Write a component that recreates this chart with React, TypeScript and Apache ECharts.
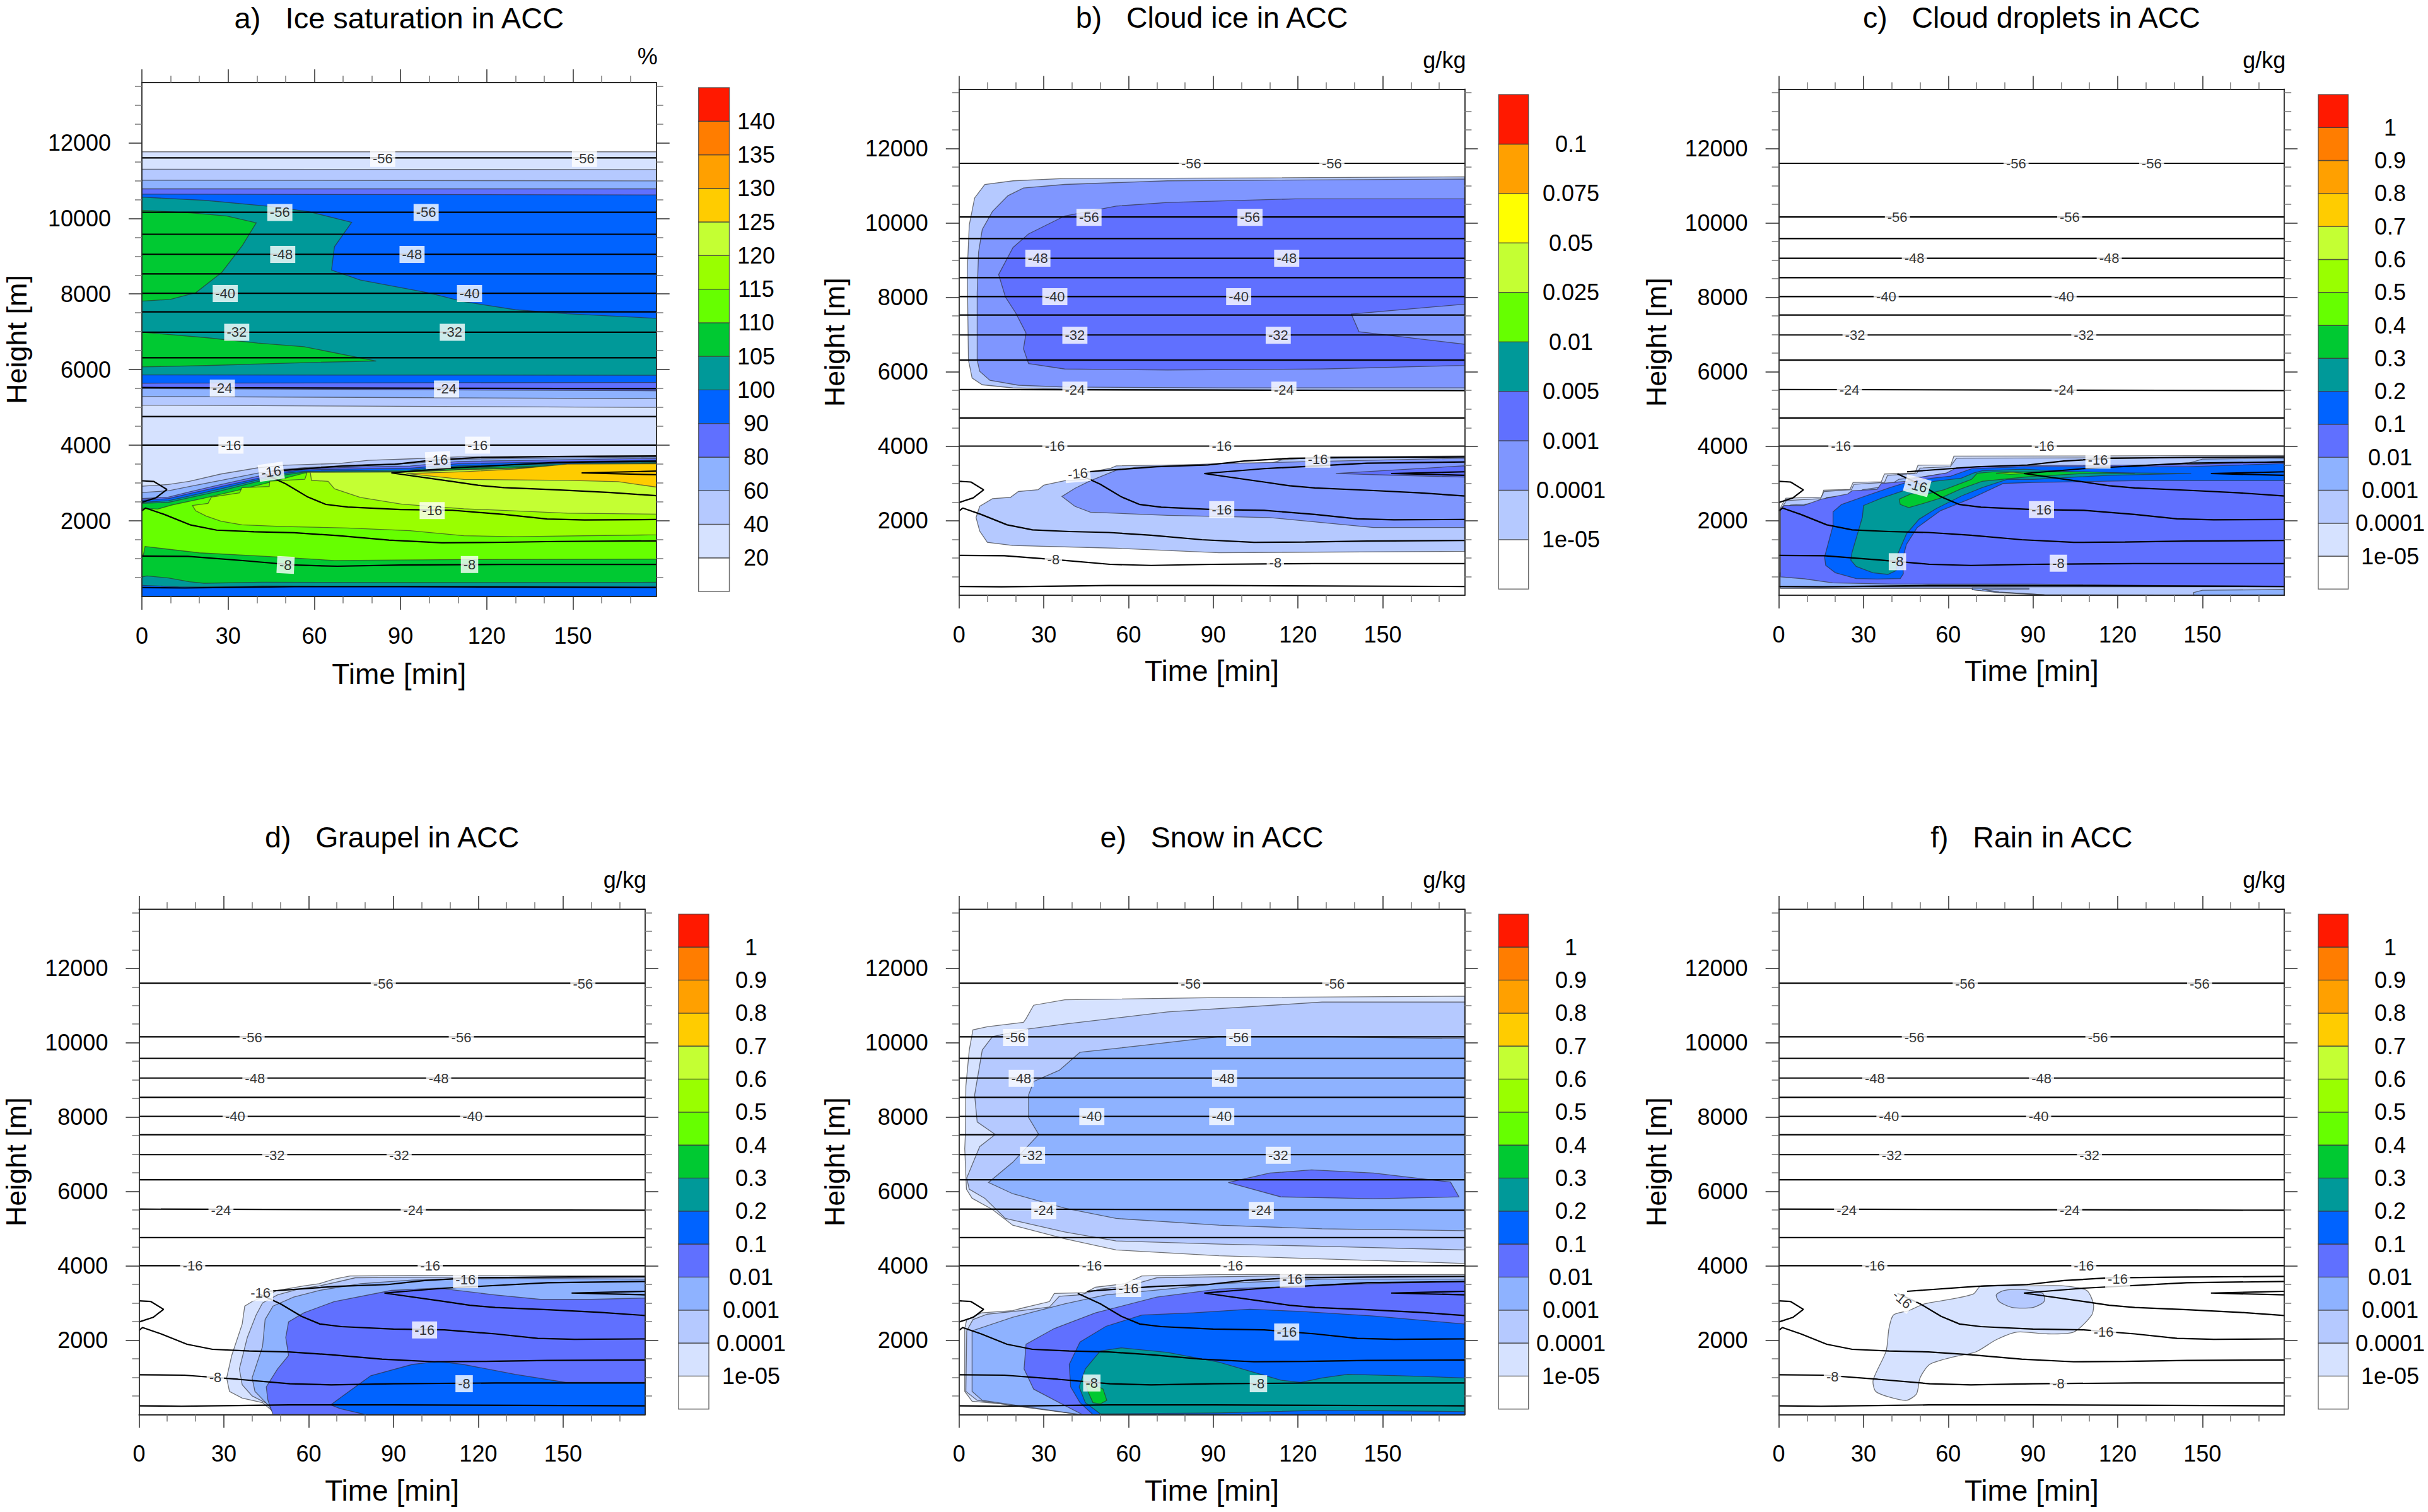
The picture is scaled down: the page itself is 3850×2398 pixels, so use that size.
import React, { useEffect, useRef } from "react";
import * as echarts from "echarts";

// ---- axis content ----
const TIME_MAX = 179;
const HEIGHT_MAX = 13590;
const timeTicks = [0, 30, 60, 90, 120, 150];
const heightTicks = [2000, 4000, 6000, 8000, 10000, 12000];

// ---- colour bars ----
const W = "#ffffff", L1 = "#d6e2ff", L2 = "#b5c9ff", L3 = "#8eb2ff", L3b = "#7f96ff", P = "#6070ff", B = "#0063ff",
  T = "#009999", G = "#00c932", G1 = "#66ff00", G2 = "#99ff00", G3 = "#c4ff33", Y0 = "#ffff00", Y = "#ffcc00",
  O1 = "#ffa000", O2 = "#ff7d00", R = "#ff1900";
const standardColors = [W, L1, L2, L3, P, B, T, G, G1, G2, G3, Y, O1, O2, R];
const iceColors = [W, L2, L3b, P, T, G1, G3, Y0, O1, R];
const satLabels = ["20", "40", "60", "80", "90", "100", "105", "110", "115", "120", "125", "130", "135", "140"];
const iceLabels = ["1e-05", "0.0001", "0.001", "0.005", "0.01", "0.025", "0.05", "0.075", "0.1"];
const mixLabels = ["1e-05", "0.0001", "0.001", "0.01", "0.1", "0.2", "0.3", "0.4", "0.5", "0.6", "0.7", "0.8", "0.9", "1"];

// ---- temperature contours (time, height) ----
const flat = (h: number, h2 = h) => [[0, h], [90, (h + h2) / 2], [TIME_MAX, h2]];
const tempContours: number[][][] = [
  flat(11600), flat(10160), flat(9580), flat(9050), flat(8530), flat(8020), flat(7525), flat(6990), flat(6315),
  flat(5525, 5495), flat(4760), flat(4005),
  [[45.4, 3315], [70, 3450], [88, 3497], [101, 3605], [117, 3676], [144.5, 3700], [179, 3715]],
  [[179, 3580], [144.5, 3545], [108, 3400], [86.8, 3268], [108, 3040], [117, 2940], [126, 2880], [144.5, 2820], [163, 2750], [179, 2665]],
  [[179, 3315], [153, 3268], [179, 3220]],
  [[42, 3260], [50, 2980], [57.5, 2640], [64, 2435], [71.6, 2365], [90, 2300], [108, 2280], [126, 2170], [141, 2050], [154, 2025], [179, 2035]],
  [[0, 2265], [1.3, 2340], [7.8, 2170], [17, 1890], [26, 1755], [39, 1710], [53, 1685], [68, 1610], [86, 1490], [104.4, 1420], [122.6, 1430], [144.5, 1455], [179, 1470]],
  [[0, 1070], [16, 1060], [35, 950], [53.4, 830], [68, 800], [90, 830], [126, 850], [179, 850]],
  [[0, 235], [15, 225], [35, 245], [53, 260], [90, 260], [179, 235]],
  [[0, 3060], [4.2, 3040], [8.7, 2830], [5, 2615], [0, 2490]],
];

// ---- contour labels: [time, height, text, rotation] ----
type Lab = [number, number, string, number?];
const labelsA: Lab[] = [[83.8, 11583, "-56"], [154, 11583, "-56"], [48, 10155, "-56"], [98.9, 10155, "-56"], [49, 9048, "-48"], [94, 9048, "-48"], [29, 8012, "-40"], [114, 8012, "-40"], [33, 6988, "-32"], [108, 6988, "-32"], [28, 5512, "-24"], [106, 5488, "-24"], [31, 4000, "-16"], [116.8, 4000, "-16"], [45, 3298, "-16", 8], [103, 3607, "-16", 3], [101, 2274, "-16"], [50, 833, "-8", -3], [114, 845, "-8"]];
const labelsB: Lab[] = [[82.2, 11590, "-56"], [132, 11590, "-56"], [46, 10150, "-56"], [103, 10150, "-56"], [27.9, 9050, "-48"], [116, 9050, "-48"], [33.9, 8020, "-40"], [99, 8020, "-40"], [41, 6980, "-32"], [113, 6980, "-32"], [41, 5507, "-24"], [115, 5507, "-24"], [33.9, 4005, "-16"], [93, 4005, "-16"], [42, 3268, "-16", 5], [127, 3655, "-16"], [93, 2300, "-16"], [33.4, 960, "-8"], [112, 865, "-8"]];
const labelsC: Lab[] = [[84, 11590, "-56"], [132, 11590, "-56"], [42, 10150, "-56"], [103, 10150, "-56"], [48, 9050, "-48"], [117, 9050, "-48"], [38, 8020, "-40"], [101, 8020, "-40"], [27, 6980, "-32"], [108, 6980, "-32"], [25, 5507, "-24"], [101, 5507, "-24"], [22, 4005, "-16"], [94, 4005, "-16"], [113, 3630, "-16"], [49, 2940, "-16", -15], [93, 2300, "-16"], [42, 900, "-8"], [99, 860, "-8"]];
const labelsD: Lab[] = [[86.4, 11580, "-56"], [157, 11580, "-56"], [40, 10140, "-56"], [114, 10140, "-56"], [41, 9040, "-48"], [106, 9040, "-48"], [34, 8015, "-40"], [118, 8015, "-40"], [48, 6975, "-32"], [92, 6975, "-32"], [29, 5490, "-24"], [97, 5490, "-24"], [19, 4005, "-16"], [103, 4005, "-16"], [43, 3280, "-16"], [115.5, 3630, "-16"], [101, 2278, "-16"], [27, 1000, "-8"], [115, 830, "-8"]];
const labelsE: Lab[] = [[82, 11580, "-56"], [133, 11580, "-56"], [20, 10140, "-56"], [99, 10140, "-56"], [22, 9040, "-48"], [94, 9040, "-48"], [47, 8015, "-40"], [93, 8015, "-40"], [26, 6975, "-32"], [113, 6975, "-32"], [30, 5490, "-24"], [107, 5490, "-24"], [47, 4005, "-16"], [97, 4005, "-16"], [60, 3390, "-16"], [118, 3640, "-16"], [116, 2220, "-16"], [47, 850, "-8"], [106, 830, "-8"]];
const labelsF: Lab[] = [[66, 11580, "-56"], [149, 11580, "-56"], [48, 10140, "-56"], [113, 10140, "-56"], [34, 9040, "-48"], [93, 9040, "-48"], [39, 8015, "-40"], [92, 8015, "-40"], [40, 6975, "-32"], [110, 6975, "-32"], [24, 5490, "-24"], [103, 5490, "-24"], [34, 4005, "-16"], [108, 4005, "-16"], [120, 3640, "-16"], [43.7, 3097, "-16", -40], [115, 2220, "-16"], [19, 1020, "-8"], [99, 830, "-8"]];

// ---- filled regions, outer level first ----
type Region = { color: string; pts: number[][]; smooth?: number };
const under = (c: number[][]) => [...c, [TIME_MAX, 0], [c[0][0], 0]];

// a) ice saturation
const aTeal = [[0, 10560], [22, 10476], [44, 10321], [58, 10179], [73, 9893], [67, 9250], [66, 8631], [76, 8369], [99.4, 8036], [112, 7798], [130, 7583], [148, 7476], [179, 7357], [179, 5850], [0, 5860]];
const aGreenUp = [[0, 10214], [17, 10143], [29.6, 10060], [39.8, 9881], [35, 9286], [27.8, 8571], [18.8, 8036], [9.9, 7857], [0, 7810]];
const aGreenMid = [[0, 6988], [22.4, 6845], [40.3, 6702], [56.4, 6607], [81.5, 6226], [58.9, 6190], [22.4, 6107], [0, 6071]];
const aLid1 = [[0, 2917], [9.2, 2961], [16.5, 3044], [27.5, 3239], [40.6, 3406], [49.4, 3472], [68.5, 3517], [78.7, 3600], [93.3, 3639], [110, 3690], [179, 3726]];
const aLid2 = [[0, 2750], [9.2, 2795], [16.5, 2906], [27.5, 3072], [40.6, 3267], [49.4, 3361], [56.7, 3406], [78.7, 3489], [93.3, 3517], [110, 3630], [179, 3690]];
const aLid3 = [[0, 2589], [9.2, 2628], [16.5, 2767], [27.5, 2961], [40.6, 3183], [49.4, 3322], [56.7, 3378], [78.7, 3433], [93.3, 3450], [110, 3571], [179, 3655]];
const aLid4 = [[0, 2545], [9.2, 2589], [16.5, 2722], [27.5, 2906], [40.6, 3128], [49.4, 3295], [56.7, 3350], [78.7, 3378], [93.3, 3389], [110, 3512], [179, 3607]];
const aLid5 = [[0, 2489], [9.2, 2533], [16.5, 2656], [27.5, 2850], [40.6, 3089], [49.4, 3256], [56.7, 3311], [93.3, 3345], [110, 3452], [179, 3560]];
const aLid6 = [[0, 2461], [9.2, 2489], [16.5, 2611], [27.5, 2795], [40.6, 3044], [49.4, 3211], [56.7, 3289], [93.3, 3311], [110, 3393], [179, 3536]];
const aLime = [[0, 2333], [5.5, 2311], [10.6, 2422], [21.6, 2600], [34, 2822], [44.3, 3017], [56.7, 3267], [93.3, 3295], [110, 3357], [179, 3512], [179, 988], [112, 976], [67, 952], [44.3, 1056], [20, 1155], [1.1, 1322], [0.5, 1100], [0, 1100]];
const aYellowGreen = [[17.6, 2406], [23, 2461], [24.2, 2628], [34, 2739], [34.8, 2878], [44.3, 2906], [44.5, 3050], [56.7, 3100], [57.5, 3283], [93.3, 3295], [110, 3350], [179, 3505], [179, 1631], [130, 1583], [112, 1607], [93.3, 1739], [71.4, 1811], [49.4, 1850], [34.8, 1894], [27.5, 1989], [22.3, 2128], [18.7, 2267]];
const aPale = [[58.6, 3283], [93.3, 3290], [110, 3345], [179, 3500], [179, 2178], [148, 2202], [112, 2321], [90.5, 2440], [76, 2620], [67, 2850], [64.8, 3044], [59, 3072]];
const aAmber = [[92, 3250], [112, 3300], [130, 3370], [148, 3500], [179, 3512], [179, 2893], [165.7, 3036], [148, 3071], [112, 3095]];
const aBaseTeal = [[0, 517], [1.8, 545], [9.2, 489], [16.5, 389], [21.6, 350], [42, 378], [93.3, 367], [179, 375]];
const aBaseBlue = [[0, 294], [12.8, 256], [20, 250], [42, 278], [93.3, 267], [179, 267]];
const regionsA: Region[] = [
  { color: L1, pts: [[0, 11760], [TIME_MAX, 11760], [TIME_MAX, 0], [0, 0]] },
  { color: L2, pts: [[0, 11300], [TIME_MAX, 11290], [TIME_MAX, 5000], [0, 5060]] },
  { color: L3, pts: [[0, 11010], [TIME_MAX, 10990], [TIME_MAX, 5230], [0, 5290]] },
  { color: P, pts: [[0, 10780], [TIME_MAX, 10780], [TIME_MAX, 5440], [0, 5500]] },
  { color: B, pts: [[0, 10640], [TIME_MAX, 10620], [TIME_MAX, 5660], [0, 5640]] },
  { color: T, pts: aTeal }, { color: G, pts: aGreenUp }, { color: G, pts: aGreenMid },
  { color: L2, pts: under(aLid1) }, { color: L3, pts: under(aLid2) }, { color: P, pts: under(aLid3) },
  { color: B, pts: under(aLid4) }, { color: T, pts: under(aLid5) }, { color: G, pts: under(aLid6) },
  { color: G1, pts: aLime }, { color: G2, pts: aYellowGreen }, { color: G3, pts: aPale }, { color: Y, pts: aAmber },
  { color: T, pts: under(aBaseTeal) }, { color: B, pts: under(aBaseBlue) },
];

// b) cloud ice
const bOuter = [[TIME_MAX, 11238], [110, 11210], [37, 11190], [19.1, 11130], [9.1, 11033], [5.5, 10670], [3.6, 9945], [2.9, 8735], [3.1, 7525], [3.3, 6316], [4.6, 5833], [8.2, 5652], [19, 5567], [41, 5530], [TIME_MAX, 5495]];
const bMid = [[TIME_MAX, 11178], [73.8, 11130], [37.4, 11033], [22.8, 10937], [17.3, 10730], [11.8, 10307], [8.2, 9824], [6.9, 9218], [6.4, 8130], [6.4, 6316], [7.3, 6014], [10.9, 5772], [21, 5639], [37.4, 5590], [92, 5567], [TIME_MAX, 5567]];
const bCore = [[TIME_MAX, 10645], [119, 10645], [73.8, 10549], [55.6, 10452], [37.4, 10186], [24.6, 9703], [19.1, 9340], [14, 8614], [16.4, 8010], [20, 7587], [23.7, 7043], [22.8, 6620], [24.6, 6220], [37.4, 6075], [73.8, 6050], [128.5, 6075], [TIME_MAX, 6172]];
const bHole = [[138.9, 7550], [141.6, 7078], [TIME_MAX, 6740], [TIME_MAX, 7816]];
const bLowOuter = [[TIME_MAX, 1178], [92, 1142], [55.6, 1262], [19, 1335], [10, 1420], [7.3, 1722], [6, 2085], [7.3, 2387], [11.8, 2593], [18.2, 2629], [21, 2786], [28, 2835], [30, 2956], [37.4, 3077], [44.7, 3113], [45.6, 3294], [53.8, 3415], [55.6, 3475], [88.4, 3512], [110, 3535], [114, 3632], [128.5, 3717], [TIME_MAX, 3741]];
const bLowMid = [[TIME_MAX, 1818], [146.7, 1818], [110, 2085], [73.8, 2145], [46.5, 2230], [41, 2387], [36.4, 2653], [41, 2870], [46.5, 3077], [55.6, 3354], [62.9, 3439], [92, 3535], [114, 3572], [128.5, 3596], [TIME_MAX, 3680]];
const bLowCore = [[133.4, 3270], [TIME_MAX, 3475], [TIME_MAX, 3172], [150, 3230]];
const regionsB: Region[] = [
  { color: L2, pts: bOuter }, { color: L3b, pts: bMid }, { color: P, pts: bCore }, { color: L3b, pts: bHole },
  { color: L2, pts: bLowOuter }, { color: L3b, pts: bLowMid }, { color: P, pts: bLowCore },
];

// c) cloud droplets
const cStair1 = [[0.6, 2350], [1, 2410], [2.5, 2607], [15.1, 2635], [15.9, 2822], [25.2, 2844], [26.3, 3030], [36.3, 3047], [37.4, 3256], [48.2, 3284], [49.3, 3493], [60.9, 3498], [62, 3735], [TIME_MAX, 3753], [TIME_MAX, 232], [0.6, 232]];
const cStair2 = [[0.9, 2327], [2.7, 2544], [14.8, 2593], [16, 2786], [25.7, 2835], [26.6, 2980], [37.4, 3028], [38.5, 3221], [48.8, 3270], [50, 3415], [60.7, 3451], [62.9, 3680], [TIME_MAX, 3705], [TIME_MAX, 232], [0.9, 232]];
const cStair3 = [[1.5, 2302], [4.2, 2423], [14.8, 2472], [17, 2629], [27, 2689], [29.7, 2835], [38.8, 2931], [42.5, 3113], [50.7, 3173], [60.7, 3294], [71.6, 3354], [108, 3415], [144.5, 3535], [150, 3656], [TIME_MAX, 3680], [TIME_MAX, 232], [1.5, 232]];
const cBody = [[0.6, 2325], [2, 2410], [8.8, 2410], [15.1, 2579], [24.4, 2720], [25.9, 2805], [34.8, 2844], [36.3, 3002], [45.2, 3059], [48.2, 3143], [59.4, 3284], [63, 3425], [86.9, 3482], [126, 3495], [144.5, 3510], [TIME_MAX, 3596], [TIME_MAX, 240], [140, 255], [90, 300], [40, 300], [19, 333], [9, 440], [0.6, 491]];
const cBlue = [[19.2, 2240], [22.2, 2438], [29.6, 2635], [39.3, 2889], [45.2, 3030], [54.2, 3143], [60.9, 3200], [68.3, 3397], [86.9, 3454], [144.5, 3451], [TIME_MAX, 3536], [TIME_MAX, 3076], [126, 3076], [90, 3028], [79.5, 3002], [68.3, 2607], [57.2, 2268], [49, 1817], [45.2, 1366], [43.8, 970], [44.1, 576], [43, 446], [34.8, 435], [27.4, 446], [20, 604], [16.6, 801], [16.2, 1027], [19.2, 1874]];
const cTeal = [[30, 2409], [36.3, 2607], [45.2, 2833], [54.9, 3059], [64.6, 3143], [69, 3284], [72, 3341], [86.9, 3386], [108, 3294], [146, 3270], [117, 3221], [90, 3112], [81, 3115], [72, 2889], [64.6, 2663], [55.7, 2325], [49.7, 2043], [45.2, 1648], [42.3, 1140], [41.5, 660], [38.6, 559], [33.3, 604], [27.4, 773], [25.5, 942], [25.9, 1140], [29.6, 2099]];
const cGreen = [[42.6, 2579], [43, 2438], [46, 2353], [51.2, 2466], [57.2, 2607], [64.6, 2861], [72, 3059], [86.9, 3171], [108, 3270], [126, 3270], [108, 3318], [86.9, 3312], [75.7, 3312], [70.2, 3273], [68.3, 3115], [58.6, 2833], [52.7, 2720], [46.7, 2720]];
const cLime = [[76.9, 3275], [82.6, 3306], [88, 3270], [82, 3250]];
const cBaseStrip = [[0.6, 225], [TIME_MAX, 232], [TIME_MAX, 0], [94.5, 12], [85.7, 50], [78, 79], [68.5, 150], [68.5, 180], [0.6, 180]];
const cLens = [[0.5, 600], [TIME_MAX, 255], [TIME_MAX, 225], [0.5, 225]];
const cBaseTail = [[68.5, 195], [88.6, 190], [88.6, 165], [72, 160], [78, 85], [94, 12], [78, 65], [68.5, 150]];
const cBaseRight = [[146.8, 68], [150, 135], [TIME_MAX, 152], [TIME_MAX, 0], [147, 0]];
const regionsC: Region[] = [
  { color: L1, pts: cStair1 }, { color: L2, pts: cStair2 }, { color: L3, pts: cStair3 },
  { color: L2, pts: cBaseStrip }, { color: L3, pts: cBaseTail }, { color: L3, pts: cBaseRight }, { color: L3, pts: cLens },
  { color: P, pts: cBody }, { color: B, pts: cBlue }, { color: T, pts: cTeal }, { color: G, pts: cGreen }, { color: G1, pts: cLime },
];

// d) graupel
const dOuter = [[TIME_MAX, 3727], [96.6, 3739], [74.7, 3727], [69, 3642], [63.8, 3522], [58.3, 3461], [49, 3340], [40, 3039], [37.4, 2918], [36.5, 2434], [32.8, 1589], [31, 986], [32, 623], [36.5, 442], [43.7, 321], [47.4, 80], [48.3, 0], [TIME_MAX, 0]];
const dSecond = [[TIME_MAX, 3690], [96.6, 3690], [76.5, 3679], [71, 3582], [63.8, 3461], [56.5, 3377], [49, 3220], [43.7, 3002], [41.4, 2676], [38.3, 2072], [35.5, 1227], [36.5, 804], [40, 502], [45.6, 285], [48.3, 0], [TIME_MAX, 0]];
const dThird = [[TIME_MAX, 3642], [133, 3666], [96.6, 3618], [78.4, 3522], [63.8, 3340], [54.7, 3159], [47.4, 2918], [44.6, 2555], [43.7, 1831], [40, 985], [41, 623], [45.6, 261], [48.3, 0], [TIME_MAX, 0]];
const dFourth = [[TIME_MAX, 3135], [160, 3099], [142, 3099], [125.7, 3220], [105.7, 3401], [89.3, 3340], [69, 3039], [58.3, 2737], [52.9, 2495], [51.9, 2072], [52.9, 1589], [49, 1227], [45, 744], [45.6, 382], [47.4, 0], [TIME_MAX, 0]];
const dFifth = [[TIME_MAX, 865], [151, 865], [133, 1082], [114.8, 1348], [105.7, 1432], [96.6, 1348], [82, 1046], [76.5, 744], [71, 442], [67.8, 261], [71, 164], [80, 0], [TIME_MAX, 0]];
const regionsD: Region[] = [
  { color: L1, pts: dOuter }, { color: L2, pts: dSecond }, { color: L3, pts: dThird }, { color: P, pts: dFourth }, { color: B, pts: dFifth },
];

// e) snow
const eUp1 = [[TIME_MAX, 11250], [92, 11214], [37.4, 11154], [26.4, 11009], [23.7, 10647], [22.8, 10550], [10, 10430], [4.9, 10346], [3.6, 9803], [2.4, 8837], [2.2, 7508], [2, 7146], [2.6, 6060], [4.6, 5817], [11.8, 5514], [19, 5092], [37.4, 4730], [55.6, 4428], [92, 4271], [128.5, 4186], [TIME_MAX, 4064]];
const eUp2 = [[TIME_MAX, 11093], [128.5, 11093], [73.8, 10828], [37.4, 10502], [24.6, 10370], [11.8, 10165], [8.2, 9803], [5.5, 8595], [6.4, 7870], [12.8, 7532], [7.3, 7206], [2.7, 6362], [3.6, 6060], [9.1, 5817], [16.4, 5274], [37.4, 4912], [55.6, 4670], [92, 4585], [128.5, 4525], [TIME_MAX, 4428]];
const eUp3 = [[TIME_MAX, 10105], [128.5, 10165], [92, 10165], [64.7, 9924], [42.8, 9743], [35.5, 9260], [26.4, 8958], [24.6, 8595], [24.6, 7991], [28.2, 7532], [19, 6785], [10.4, 6241], [19, 5939], [37.4, 5551], [55.6, 5274], [92, 5092], [128.5, 4995], [TIME_MAX, 4946]];
const eUp4 = [[95.3, 6241], [110, 6495], [124.8, 6580], [146.7, 6495], [174, 6253], [177, 5854], [146.7, 5805], [113.9, 5854]];
const eLow1 = [[TIME_MAX, 3765], [92, 3765], [64.7, 3727], [58.8, 3522], [48.3, 3425], [44.7, 3280], [33.7, 3256], [32, 3039], [22, 2857], [19, 2797], [8, 2736], [2.7, 2555], [2, 2314], [2, 623], [4.6, 357], [19, 261], [37.4, 80], [44.7, 0], [TIME_MAX, 0]];
const eLow2 = [[TIME_MAX, 3727], [110, 3727], [70, 3679], [60, 3461], [50, 3377], [42.8, 3220], [35.5, 3183], [32, 2894], [22, 2797], [10, 2700], [4.9, 2555], [2.7, 2253], [2.4, 623], [6.4, 382], [22.8, 200], [41, 19], [43, 0], [TIME_MAX, 0]];
const eLow3 = [[TIME_MAX, 3642], [128.5, 3642], [92, 3522], [73.8, 3377], [52, 3220], [37.4, 2978], [19, 2616], [4.6, 2253], [4.6, 623], [8.2, 382], [24.6, 200], [42.8, 0], [TIME_MAX, 0]];
const eLow4 = [[TIME_MAX, 3582], [146.7, 3522], [92, 3377], [70, 3159], [48.3, 2737], [33.7, 2314], [23.7, 1891], [23, 1227], [26.4, 684], [35.5, 321], [43.7, 0], [TIME_MAX, 0]];
const eLow5 = [[TIME_MAX, 2436], [146.7, 2653], [121, 2773], [103, 2834], [82.9, 2737], [64.7, 2676], [52, 2374], [42.8, 1951], [39, 1348], [39.5, 744], [42.8, 321], [47.4, 0], [TIME_MAX, 0]];
const eLow6 = [[TIME_MAX, 985], [156, 1046], [137.6, 1082], [128.5, 985], [121, 865], [113.9, 925], [92, 1408], [73.8, 1674], [57.4, 1794], [50, 1710], [44.7, 1227], [42.5, 744], [44.7, 321], [50, 19], [92, 44], [128.5, 116], [TIME_MAX, 80]];
const eLow7 = [[44.7, 865], [45.6, 623], [47.4, 321], [50, 285], [52.3, 382], [51, 684], [48.3, 804]];
const regionsE: Region[] = [
  { color: L1, pts: eUp1 }, { color: L2, pts: eUp2 }, { color: L3, pts: eUp3 }, { color: P, pts: eUp4 },
  { color: L1, pts: eLow1 }, { color: L2, pts: eLow2 }, { color: L3, pts: eLow3 }, { color: P, pts: eLow4 },
  { color: B, pts: eLow5 }, { color: T, pts: eLow6 }, { color: G, pts: eLow7 },
];

// f) rain
const fBlob = [[33.4, 925], [34.3, 623], [38.8, 478], [45.2, 382], [48.8, 563], [50, 985], [53.4, 1348], [60.7, 1530], [69.8, 1687], [77, 2013], [84.4, 2219], [95.3, 2170], [104.4, 2219], [110.8, 2678], [111.4, 2978], [109, 3340], [100.8, 3461], [89.8, 3461], [71.6, 3461], [68.9, 3244], [60.7, 3099], [51.6, 2978], [46, 2797], [40.6, 2678], [39, 2315], [38, 1711]];
const fCore = [[77, 3220], [78, 3039], [82.6, 2882], [90, 2882], [93.9, 3039], [93.5, 3256], [86.2, 3365], [79.8, 3340]];
const regionsF: Region[] = [{ color: L1, pts: fBlob, smooth: 0.25 }, { color: L2, pts: fCore, smooth: 0.25 }];

// ---- panels ----
const panels = [
  { title: "a)   Ice saturation in ACC", unit: "%", regions: regionsA, labels: labelsA, barColors: standardColors, barLabels: satLabels,
    left: 225, right: 1040.7, top: 131, bottom: 946, titleY: 28, unitY: 90, barL: 1107.7, barR: 1156.5, barT: 139, barB: 938, barC: 1199, nameX: 24.5, titleSize: 47 },
  { title: "b)   Cloud ice in ACC", unit: "g/kg", regions: regionsB, labels: labelsB, barColors: iceColors, barLabels: iceLabels,
    left: 1520.8, right: 2322.4, top: 141.5, bottom: 944, titleY: 28, unitY: 96, barL: 2376.3, barR: 2423.7, barT: 150, barB: 934.3, barC: 2491, nameX: 1322.4, titleSize: 46.5 },
  { title: "c)   Cloud droplets in ACC", unit: "g/kg", regions: regionsC, labels: labelsC, barColors: standardColors, barLabels: mixLabels,
    left: 2820.6, right: 3622.2, top: 141.5, bottom: 944, titleY: 28, unitY: 96, barL: 3676, barR: 3723.5, barT: 150, barB: 934.3, barC: 3790, nameX: 2624.7, titleSize: 46.5 },
  { title: "d)   Graupel in ACC", unit: "g/kg", regions: regionsD, labels: labelsD, barColors: standardColors, barLabels: mixLabels,
    left: 220.4, right: 1022.9, top: 1442, bottom: 2243.5, titleY: 1328, unitY: 1396, barL: 1075.9, barR: 1124, barT: 1449.7, barB: 2234.7, barC: 1191, nameX: 23.5, titleSize: 46.5 },
  { title: "e)   Snow in ACC", unit: "g/kg", regions: regionsE, labels: labelsE, barColors: standardColors, barLabels: mixLabels,
    left: 1520.8, right: 2322.4, top: 1442, bottom: 2243.5, titleY: 1328, unitY: 1396, barL: 2376.3, barR: 2423.7, barT: 1449.7, barB: 2234.7, barC: 2491, nameX: 1322.4, titleSize: 46.5 },
  { title: "f)   Rain in ACC", unit: "g/kg", regions: regionsF, labels: labelsF, barColors: standardColors, barLabels: mixLabels,
    left: 2820.6, right: 3622.2, top: 1442, bottom: 2243.5, titleY: 1328, unitY: 1396, barL: 3676, barR: 3723.5, barT: 1449.7, barB: 2234.7, barC: 3790, nameX: 2624.7, titleSize: 46.5 },
];

const FONT = "Liberation Sans";
const AXIS = "#2a2a2a";

function buildOption() {
  const grid: any[] = [], xAxis: any[] = [], yAxis: any[] = [], series: any[] = [], title: any[] = [];
  const tickStyle = { color: AXIS, width: 1.5 };
  const minorStyle = { color: "#777", width: 1.5 };

  panels.forEach((p) => {
    const g = grid.length;
    grid.push({ left: p.left, top: p.top, width: p.right - p.left, height: p.bottom - p.top, containLabel: false });
    const xi = xAxis.length, yi = yAxis.length;
    (["bottom", "top"] as const).forEach((pos) => {
      xAxis.push({
        type: "value", gridIndex: g, position: pos, min: 0, max: TIME_MAX, interval: 30, z: 5,
        name: pos === "bottom" ? "Time [min]" : "", nameLocation: "middle", nameGap: p.top < 200 && p.left < 300 ? 100 : 97,
        nameTextStyle: { fontSize: 46, color: "#000", fontFamily: FONT },
        splitLine: { show: false },
        axisLine: { show: true, onZero: false, lineStyle: { color: AXIS, width: 1.8 } },
        axisTick: { show: true, inside: false, length: 21, customValues: timeTicks, lineStyle: tickStyle },
        minorTick: { show: true, splitNumber: 3, length: 11, lineStyle: minorStyle },
        axisLabel: { show: pos === "bottom", customValues: timeTicks, margin: 44, fontSize: 36, color: "#000", fontFamily: FONT },
      });
    });
    (["left", "right"] as const).forEach((pos) => {
      yAxis.push({
        type: "value", gridIndex: g, position: pos, min: 0, max: HEIGHT_MAX, interval: 2000, z: 5,
        name: pos === "left" ? "Height [m]" : "", nameLocation: "middle", nameGap: p.left - p.nameX - 24,
        nameTextStyle: { fontSize: 45, color: "#000", fontFamily: FONT },
        splitLine: { show: false },
        axisLine: { show: true, onZero: false, lineStyle: { color: AXIS, width: 1.8 } },
        axisTick: { show: true, inside: false, length: 21, customValues: heightTicks, lineStyle: tickStyle },
        minorTick: { show: true, splitNumber: 4, length: 11, lineStyle: minorStyle },
        axisLabel: {
          show: pos === "left", customValues: heightTicks, margin: 49, fontSize: 36, color: "#000", fontFamily: FONT,
          formatter: (v: number) => String(v),
        },
      });
    });

    const regions = p.regions;
    series.push({
      type: "custom", coordinateSystem: "cartesian2d", xAxisIndex: xi, yAxisIndex: yi, silent: true, z: 2, clip: true,
      data: regions.map((_, i) => [0, 0, i]),
      encode: { x: 0, y: 1 },
      renderItem: (_: any, api: any) => {
        const r = regions[api.value(2)];
        return {
          type: "polygon",
          shape: { points: r.pts.map((q) => api.coord(q)), smooth: r.smooth || 0 },
          style: { fill: r.color, stroke: "rgba(45,45,45,0.65)", lineWidth: 1.3 },
        };
      },
    });
    tempContours.forEach((c) => {
      series.push({
        type: "line", xAxisIndex: xi, yAxisIndex: yi, data: c, showSymbol: false, symbol: "none", silent: true, z: 3,
        lineStyle: { color: "#000", width: 2.2 },
      });
    });
    series.push({
      type: "scatter", xAxisIndex: xi, yAxisIndex: yi, silent: true, z: 4, symbolSize: 1,
      itemStyle: { color: "transparent" },
      label: {
        show: true, position: "inside", formatter: "{b}", fontSize: 22, color: "#000", fontFamily: FONT,
        backgroundColor: "#fff", padding: [3, 4, 2, 4],
      },
      data: p.labels.map((l) => ({ value: [l[0], l[1]], name: l[2], label: l[3] ? { rotate: l[3] } : undefined })),
    });

    // colour bar
    const gb = grid.length;
    grid.push({ left: p.barL, top: p.barT, width: p.barR - p.barL, height: p.barB - p.barT, containLabel: false });
    const xb = xAxis.length, yb = yAxis.length;
    xAxis.push({ type: "value", gridIndex: gb, min: 0, max: 1, show: false });
    yAxis.push({
      type: "value", gridIndex: gb, position: "right", min: 0, max: p.barColors.length, interval: 1,
      splitLine: { show: false }, axisLine: { show: false }, axisTick: { show: false },
      axisLabel: {
        margin: p.barC - p.barR, align: "center", fontSize: 36, color: "#000", fontFamily: FONT,
        formatter: (v: number) => p.barLabels[v - 1] ?? "",
      },
    });
    const colors = p.barColors;
    series.push({
      type: "custom", coordinateSystem: "cartesian2d", xAxisIndex: xb, yAxisIndex: yb, silent: true, z: 2,
      data: colors.map((_, i) => [0, i]),
      encode: { x: 0, y: 1 },
      renderItem: (_: any, api: any) => {
        const i = api.value(1);
        const a = api.coord([0, i + 1]);
        const b = api.coord([1, i]);
        return {
          type: "rect",
          shape: { x: a[0], y: a[1], width: b[0] - a[0], height: b[1] - a[1] },
          style: { fill: colors[i], stroke: "rgba(60,60,60,0.75)", lineWidth: 1.4 },
        };
      },
    });

    title.push({
      text: p.title, left: (p.left + p.right) / 2, top: p.titleY - p.titleSize / 2, textAlign: "center", padding: 0,
      textStyle: { fontSize: p.titleSize, fontWeight: "normal", color: "#000", fontFamily: FONT },
    });
    title.push({
      text: p.unit, left: p.right + 2, top: p.unitY - 19, textAlign: "right", padding: 0,
      textStyle: { fontSize: 36, fontWeight: "normal", color: "#000", fontFamily: FONT },
    });
  });

  return { animation: false, backgroundColor: "#fff", textStyle: { fontFamily: FONT }, title, grid, xAxis, yAxis, series };
}

export default function App() {
  const ref = useRef<HTMLDivElement>(null);
  useEffect(() => {
    const chart = echarts.init(ref.current!, undefined, { renderer: "svg" });
    chart.setOption(buildOption() as any);
    return () => chart.dispose();
  }, []);
  return <div ref={ref} style={{ position: "fixed", left: 0, top: 0, width: 3850, height: 2398, background: "#fff" }} />;
}
